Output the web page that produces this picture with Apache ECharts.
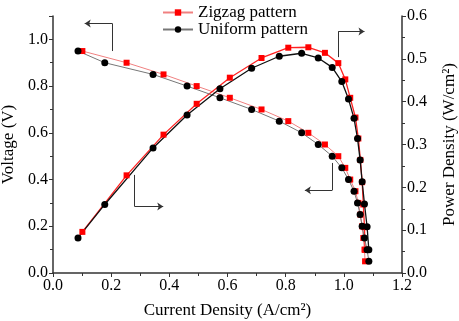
<!DOCTYPE html>
<html>
<head>
<meta charset="utf-8">
<script src="https://cdn.jsdelivr.net/npm/echarts@6/dist/echarts.min.js"></script>
<style>
  html, body { margin: 0; padding: 0; background: #fff; }
  #chart { width: 459px; height: 321px; }
</style>
</head>
<body>
<div id="chart"></div>
<script>
  // current density (A/cm2)
  var zigzagCurrent = [0.101, 0.253, 0.380, 0.494, 0.608, 0.717, 0.809, 0.878, 0.935, 0.981, 1.005, 1.022, 1.040, 1.050, 1.057, 1.063, 1.067, 1.071, 1.073]
  var uniformCurrent = [0.086, 0.178, 0.344, 0.461, 0.574, 0.683, 0.778, 0.855, 0.912, 0.960, 0.993, 1.016, 1.035, 1.047, 1.056, 1.063, 1.071, 1.080, 1.086]
  // voltage (V)
  var zigzagVoltage = [0.95, 0.90, 0.85, 0.80, 0.75, 0.70, 0.65, 0.60, 0.55, 0.50, 0.45, 0.40, 0.35, 0.30, 0.25, 0.20, 0.15, 0.10, 0.05]
  var uniformVoltage = [0.95, 0.90, 0.85, 0.80, 0.75, 0.70, 0.65, 0.60, 0.55, 0.50, 0.45, 0.40, 0.35, 0.30, 0.25, 0.20, 0.15, 0.10, 0.05]
  // power density (W/cm2)
  var zigzagPower = [0.096, 0.228, 0.323, 0.395, 0.456, 0.502, 0.526, 0.527, 0.514, 0.490, 0.452, 0.409, 0.363, 0.314, 0.264, 0.212, 0.160, 0.107, 0.054]
  var uniformPower = [0.082, 0.160, 0.292, 0.369, 0.430, 0.478, 0.506, 0.513, 0.502, 0.480, 0.447, 0.406, 0.361, 0.314, 0.264, 0.213, 0.161, 0.108, 0.054]

  var legendNames = ['Zigzag pattern', 'Uniform pattern']

  // annotation arrows: [start, corner, arrow tip], in axis units
  var arrowVoltage1 = [[0.204, 0.95], [0.204, 1.068], [0.109, 1.068]]
  var arrowVoltage2 = [[0.960, 0.471], [0.960, 0.354], [0.866, 0.354]]
  var arrowPower1 = [[0.281, 0.229], [0.281, 0.155], [0.379, 0.155]]
  var arrowPower2 = [[0.981, 0.504], [0.981, 0.564], [1.071, 0.564]]

  function pairs(xs, ys) {
    return xs.map(function (x, i) { return [x, ys[i]] })
  }

  function arrowLines(a) {
    return [
      [{coord: a[0], symbol: 'none'}, {coord: a[1], symbol: 'none'}],
      [{coord: a[1], symbol: 'none'}, {coord: a[2], symbol: 'arrow', symbolSize: 6}]
    ]
  }

  var font = 'Liberation Serif'
  var axisColor = '#333'
  var tickSize = 16
  var nameSize = 17

  var chart = echarts.init(document.getElementById('chart'))
  var options = {
    animation: false,
    textStyle: {fontFamily: font, color: '#000'},
    grid: {left: 53, right: 57, top: 16, bottom: 48, containLabel: false, outerBoundsMode: 'none'},
    legend: {
      data: legendNames,
      orient: 'vertical',
      left: 157,
      top: -1,
      itemGap: 0,
      itemWidth: 30,
      itemHeight: 8,
      textStyle: {fontFamily: font, fontSize: nameSize, color: '#000'}
    },
    xAxis: {
      type: 'value',
      min: 0,
      max: 1.2,
      interval: 0.2,
      name: 'Current Density (A/cm²)',
      nameLocation: 'middle',
      nameGap: 29,
      nameTextStyle: {fontFamily: font, fontSize: nameSize, color: '#000'},
      axisLine: {lineStyle: {color: axisColor, width: 1.5}},
      axisTick: {length: 4, lineStyle: {color: axisColor}},
      minorTick: {show: true, splitNumber: 2, length: 3, lineStyle: {color: axisColor}},
      splitLine: {show: false},
      axisLabel: {
        fontFamily: font, fontSize: tickSize, color: '#000', margin: 5,
        formatter: function (v) { return v.toFixed(1) }
      }
    },
    yAxis: [{
      type: 'value',
      min: 0,
      max: 1.1,
      interval: 0.2,
      name: 'Voltage (V)',
      nameLocation: 'middle',
      nameGap: 33,
      nameTextStyle: {fontFamily: font, fontSize: nameSize, color: '#000'},
      axisLine: {show: true, lineStyle: {color: axisColor, width: 1.5}},
      axisTick: {show: true, length: 4, lineStyle: {color: axisColor}},
      minorTick: {show: true, splitNumber: 2, length: 3, lineStyle: {color: axisColor}},
      splitLine: {show: false},
      axisLabel: {
        fontFamily: font, fontSize: tickSize, color: '#000', margin: 5,
        formatter: function (v) { return v > 1.05 ? '' : v.toFixed(1) }
      }
    }, {
      type: 'value',
      position: 'right',
      min: 0,
      max: 0.6,
      interval: 0.1,
      name: 'Power Density (W/cm²)',
      nameLocation: 'middle',
      nameGap: 39,
      nameRotate: 90,
      nameTextStyle: {fontFamily: font, fontSize: nameSize, color: '#000'},
      axisLine: {show: true, lineStyle: {color: axisColor, width: 1.5}},
      axisTick: {show: true, length: 4, lineStyle: {color: axisColor}},
      minorTick: {show: true, splitNumber: 2, length: 3, lineStyle: {color: axisColor}},
      splitLine: {show: false},
      axisLabel: {
        fontFamily: font, fontSize: tickSize, color: '#000', margin: 5,
        formatter: function (v) { return v.toFixed(1) }
      }
    }],
    series: [{
        name: legendNames[0],
        type: 'line',
        yAxisIndex: 0,
        data: pairs(zigzagCurrent, zigzagVoltage),
        symbol: 'rect',
        symbolSize: 6,
        itemStyle: {color: '#f00'},
        lineStyle: {color: '#f08080', width: 1},
        markLine: {
          silent: true,
          animation: false,
          label: {show: false},
          lineStyle: {color: axisColor, width: 1, type: 'solid'},
          data: arrowLines(arrowVoltage1).concat(arrowLines(arrowVoltage2))
        }
      },
      {
        name: legendNames[0],
        type: 'line',
        yAxisIndex: 1,
        data: pairs(zigzagCurrent, zigzagPower),
        symbol: 'rect',
        symbolSize: 6,
        itemStyle: {color: '#f00'},
        lineStyle: {color: '#f22', width: 1.3},
        markLine: {
          silent: true,
          animation: false,
          label: {show: false},
          lineStyle: {color: axisColor, width: 1, type: 'solid'},
          data: arrowLines(arrowPower1).concat(arrowLines(arrowPower2))
        }
      },
      {
        name: legendNames[1],
        type: 'line',
        yAxisIndex: 0,
        data: pairs(uniformCurrent, uniformVoltage),
        symbol: 'circle',
        symbolSize: 7,
        itemStyle: {color: '#000'},
        lineStyle: {color: '#777', width: 1}
      },
      {
        name: legendNames[1],
        type: 'line',
        yAxisIndex: 1,
        data: pairs(uniformCurrent, uniformPower),
        symbol: 'circle',
        symbolSize: 7,
        itemStyle: {color: '#000'},
        lineStyle: {color: '#111', width: 1.3}
      }
    ]
  }
  chart.setOption(options)
</script>
</body>
</html>
